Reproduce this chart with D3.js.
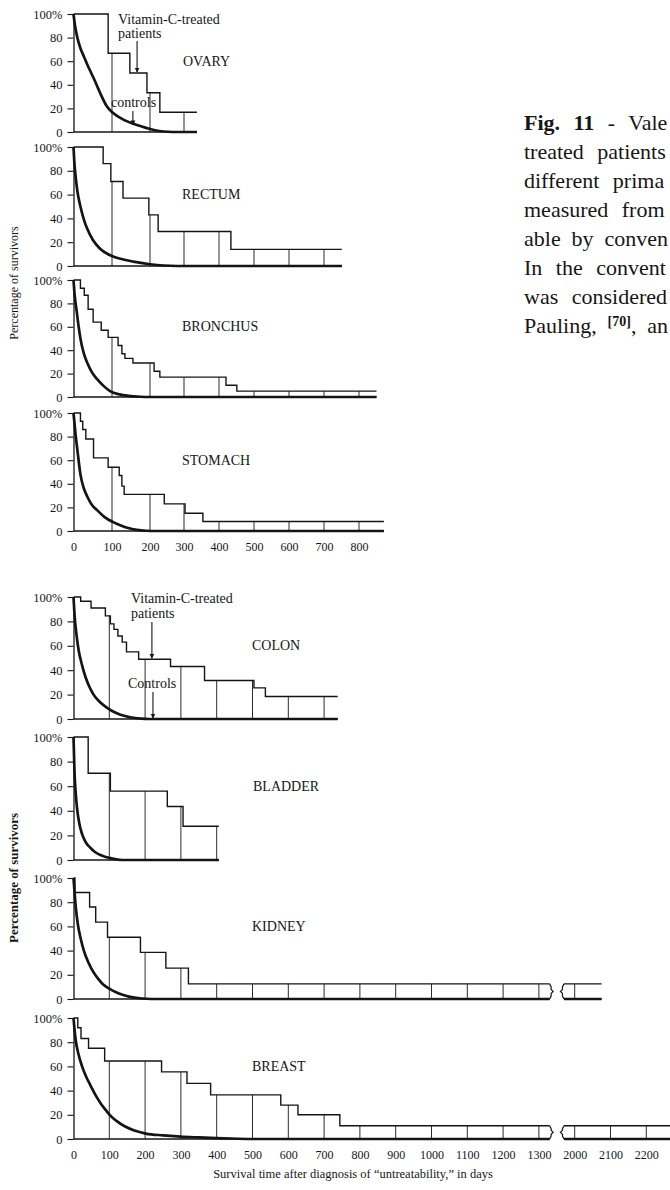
<!DOCTYPE html>
<html>
<head>
<meta charset="utf-8">
<script src="https://cdn.jsdelivr.net/npm/d3@7"></script>
<style>
  body { margin: 0; background: #fff; }
  svg text { font-family: "Liberation Serif", "Times New Roman", serif; fill: #161616; }
</style>
</head>
<body>
<svg id="fig" width="670" height="1190"></svg>
<script>
var Y_TICKS = [0, 20, 40, 60, 80, 100];
var TOP_DAYS = [0, 100, 200, 300, 400, 500, 600, 700, 800];
var BOTTOM_DAYS = [0, 100, 200, 300, 400, 500, 600, 700, 800, 900, 1000, 1100, 1200, 1300, 2000, 2100, 2200];

// treated patients: [day the step starts, % surviving], last pair = end of record
var ovaryTreated = [[0, 100], [90, 66.7], [147, 50], [192, 33.3], [229, 16.7], [337, 16.7]];
var rectumTreated = [[0, 100], [77, 86], [97, 71], [129, 57], [197, 43], [224, 29], [434, 14], [751, 14]];
var bronchusTreated = [[0, 100], [18, 93], [28, 87], [38, 75], [51, 64], [72, 57], [90, 51], [116, 44], [126, 37],
  [134, 33], [155, 29], [212, 22], [229, 17], [420, 10], [451, 5], [850, 5]];
var stomachTreated = [[0, 100], [18, 93], [24, 86], [32, 78], [52, 62], [90, 54], [119, 47], [126, 38], [132, 31],
  [242, 23], [303, 15], [354, 8], [871, 8]];
var colonTreated = [[0, 100], [20, 96.5], [49, 91], [89, 84.5], [103, 78], [113, 73.5], [124, 68], [136, 63], [148, 55],
  [182, 49], [271, 43], [366, 31.5], [504, 25.5], [536, 18.5], [738, 18.5]];
var bladderTreated = [[0, 100], [41, 70.5], [103, 56], [262, 43.5], [306, 27.5], [406, 27.5]];
var kidneyTreated = [[0, 100], [4, 88], [45, 76], [62, 63.5], [95, 51], [187, 38.5], [258, 25.5], [321, 12.5], [2075, 12.5]];
var breastTreated = [[0, 100], [12, 92], [21, 83], [42, 75], [87, 64.5], [246, 55.5], [317, 46], [383, 36.5], [579, 28],
  [627, 20], [744, 11], [2400, 11]];

// controls: [day, % surviving]
var ovaryControls = [[0, 100], [4, 90], [10, 80], [18, 71], [27, 64], [36, 57], [46, 50], [56, 43], [64, 37], [72, 31],
  [86, 22], [103, 16], [130, 10.5], [160, 6.5], [190, 3.5], [215, 1.5], [240, 0.4], [265, 0], [337, 0]];
var rectumControls = [[0, 100], [2, 88], [5, 77], [10, 63], [18, 50], [27, 39], [36, 31], [50, 22], [69, 14.5], [103, 8],
  [130, 5.5], [160, 3.5], [200, 1.5], [240, 0.4], [280, 0], [751, 0]];
var bronchusControls = [[0, 100], [3, 87], [8, 74], [13, 61], [18, 50], [27, 37], [36, 29], [48, 21], [62, 15], [78, 9.5],
  [95, 5], [120, 2.2], [143, 1], [175, 0.2], [200, 0], [850, 0]];
var stomachControls = [[0, 100], [3, 90], [5, 83], [10, 69], [18, 48], [27, 36], [36, 29], [48, 22], [62, 17.5], [80, 12],
  [103, 7.5], [125, 4.5], [143, 2.5], [165, 1], [190, 0.2], [215, 0], [871, 0]];
var colonControls = [[0, 100], [3, 85], [8, 70], [14, 57], [24, 44], [34, 34], [45, 26], [56, 20], [75, 13.5], [95, 9],
  [115, 5.5], [131, 3.5], [150, 2], [168, 1], [190, 0.3], [210, 0], [738, 0]];
var bladderControls = [[0, 100], [1, 90], [3, 70], [6, 55], [10, 42], [16, 30], [24, 21], [35, 14], [47, 10], [60, 6.5],
  [75, 4], [90, 2.5], [103, 1.5], [120, 0.5], [135, 0], [406, 0]];
var kidneyControls = [[0, 100], [2, 92], [6, 77], [12, 62], [20, 50], [30, 39], [42, 30], [54, 23], [68, 17], [83, 12],
  [100, 8.5], [119, 5.5], [137, 3.5], [155, 2], [180, 0.8], [205, 0.2], [230, 0], [2075, 0]];
var breastControls = [[0, 100], [3, 90], [6, 82], [14, 70], [24, 60], [36, 51], [48, 44], [62, 36], [77, 29], [90, 24],
  [101, 20], [120, 15], [143, 10.5], [170, 7], [202, 4.5], [250, 3], [298, 2], [350, 1.3], [400, 0.7], [460, 0.2],
  [520, 0], [2400, 0]];

var CAPTION = ["Fig. 11", " - Vale", "treated patients", "different prima", "measured from",
  "able by conven", "In the convent", "was considered", "Pauling, ", "[70]", ", an"];

var ink = "#141414";
var svg = d3.select("#fig");
svg.append("rect").attr("width", 670).attr("height", 1190).attr("fill", "#fff");

// top group: scan is a little stretched over the first 300 days
var topX = d3.scaleLinear().domain([0, 100, 200, 300, 800]).range([73.5, 112, 150, 184, 359]);
// bottom group: axis is broken between 1300 and 2000 days
var u = 0.358;
var botX = d3.scaleLinear().domain([0, 1350, 1950, 2400])
  .range([73.5, 73.5 + 1350 * u, 73.5 + 1350 * u, 73.5 + 1800 * u]);
var breakL = 1330, breakR = 1970;

var defs = svg.append("defs");
defs.append("marker").attr("id", "arrow").attr("viewBox", "0 0 10 10")
  .attr("refX", 9).attr("refY", 5).attr("markerWidth", 5).attr("markerHeight", 6)
  .attr("markerUnits", "userSpaceOnUse").attr("orient", "auto")
  .append("path").attr("d", "M0,0L10,5L0,10z").attr("fill", ink);
var gap = defs.append("clipPath").attr("id", "gap");
gap.append("rect").attr("x", 0).attr("y", 0).attr("width", botX(breakL)).attr("height", 1190);
gap.append("rect").attr("x", botX(breakR)).attr("y", 0).attr("width", 700).attr("height", 1190);

function stepValue(steps, day) {
  var v = steps[0][1];
  steps.forEach(function(s) { if (s[0] <= day) v = s[1]; });
  return v;
}

var panels = [
  {label: "OVARY", treated: ovaryTreated, controls: ovaryControls, x: topX, days: TOP_DAYS, y0: 132, y100: 14, lx: 183},
  {label: "RECTUM", treated: rectumTreated, controls: rectumControls, x: topX, days: TOP_DAYS, y0: 266, y100: 147, lx: 182},
  {label: "BRONCHUS", treated: bronchusTreated, controls: bronchusControls, x: topX, days: TOP_DAYS, y0: 397, y100: 280, lx: 182},
  {label: "STOMACH", treated: stomachTreated, controls: stomachControls, x: topX, days: TOP_DAYS, y0: 531, y100: 413, lx: 182},
  {label: "COLON", treated: colonTreated, controls: colonControls, x: botX, days: BOTTOM_DAYS, y0: 719, y100: 597, lx: 252},
  {label: "BLADDER", treated: bladderTreated, controls: bladderControls, x: botX, days: BOTTOM_DAYS, y0: 860, y100: 737, lx: 253},
  {label: "KIDNEY", treated: kidneyTreated, controls: kidneyControls, x: botX, days: BOTTOM_DAYS, y0: 999, y100: 878, lx: 252, broken: true},
  {label: "BREAST", treated: breastTreated, controls: breastControls, x: botX, days: BOTTOM_DAYS, y0: 1139, y100: 1018, lx: 252, broken: true}
];

panels.forEach(function(p) {
  var end = p.treated[p.treated.length - 1][0];
  var y = d3.scaleLinear().domain([0, 100]).range([p.y0, p.y100]);
  p.y = y;
  var g = svg.append("g");
  var marks = g.append("g");
  if (p.broken) marks.attr("clip-path", "url(#gap)");

  // verticals at each hundred days, up to the treated curve
  marks.selectAll("line.grid")
    .data(p.days.filter(function(d) { return d > 0 && d < end; }))
    .enter().append("line")
    .attr("x1", function(d) { return p.x(d); })
    .attr("x2", function(d) { return p.x(d); })
    .attr("y1", y(0))
    .attr("y2", function(d) { return y(stepValue(p.treated, d)); })
    .attr("stroke", ink).attr("stroke-width", 0.9);

  marks.append("line")
    .attr("x1", p.x(0)).attr("x2", p.x(end))
    .attr("y1", y(0)).attr("y2", y(0))
    .attr("stroke", ink).attr("stroke-width", 1.3);

  marks.append("path").datum(p.treated)
    .attr("d", d3.line().x(function(d) { return p.x(d[0]); }).y(function(d) { return y(d[1]); }).curve(d3.curveStepAfter))
    .attr("fill", "none").attr("stroke", ink).attr("stroke-width", 1.4);

  marks.append("path").datum(p.controls)
    .attr("d", d3.line().x(function(d) { return p.x(d[0]); }).y(function(d) { return y(d[1]); }).curve(d3.curveMonotoneX))
    .attr("fill", "none").attr("stroke", ink).attr("stroke-width", 2.7);

  if (p.broken) {
    var last = stepValue(p.treated, breakL);
    var yt = y(last), yb = y(0), ym = (yt + yb) / 2;
    var xl = botX(breakL), xr = botX(breakR);
    g.append("path")
      .attr("d", "M" + xl + "," + yt + "L" + (xl + 1.5) + "," + (yt + 3) + "L" + (xl + 1.5) + "," + (ym - 2) +
        "L" + (xl + 3.5) + "," + ym + "L" + (xl + 1.5) + "," + (ym + 2) + "L" + (xl + 1.5) + "," + (yb - 3) + "L" + xl + "," + yb)
      .attr("fill", "none").attr("stroke", ink).attr("stroke-width", 1.2);
    g.append("path")
      .attr("d", "M" + xr + "," + yt + "L" + (xr - 1.5) + "," + (yt + 3) + "L" + (xr - 1.5) + "," + (ym - 2) +
        "L" + (xr - 3.5) + "," + ym + "L" + (xr - 1.5) + "," + (ym + 2) + "L" + (xr - 1.5) + "," + (yb - 3) + "L" + xr + "," + yb)
      .attr("fill", "none").attr("stroke", ink).attr("stroke-width", 1.2);
  }

  var ax = g.append("g")
    .attr("transform", "translate(" + p.x(0) + ",0)")
    .call(d3.axisLeft(y).tickValues(Y_TICKS).tickSize(6).tickPadding(5).tickSizeOuter(0)
      .tickFormat(function(d) { return d === 100 ? "100%" : d; }))
    .attr("font-family", null).attr("font-size", null);
  ax.select(".domain").attr("stroke", ink).attr("stroke-width", 1.3);
  ax.selectAll(".tick line").attr("stroke", ink).attr("stroke-width", 1.1);
  ax.selectAll(".tick text").style("font-size", "12.5px");

  g.append("text")
    .attr("x", p.lx).attr("y", y(60))
    .attr("dominant-baseline", "central")
    .style("font-size", "14px")
    .text(p.label);
});

// x axes
function dayAxis(scale, days, yPos) {
  var a = svg.append("g")
    .attr("transform", "translate(0," + yPos + ")")
    .call(d3.axisBottom(scale).tickValues(days).tickSize(0).tickPadding(11).tickFormat(d3.format("d")))
    .attr("font-family", null).attr("font-size", null);
  a.select(".domain").remove();
  a.selectAll(".tick text").style("font-size", "12px");
}
dayAxis(topX, TOP_DAYS, panels[3].y0);
dayAxis(botX, BOTTOM_DAYS, panels[7].y0);

svg.append("text")
  .attr("x", 353).attr("y", 1178)
  .attr("text-anchor", "middle")
  .style("font-size", "12.5px")
  .text("Survival time after diagnosis of \u201cuntreatability,\u201d in days");

svg.append("text")
  .attr("transform", "translate(18,283) rotate(-90)")
  .attr("text-anchor", "middle")
  .style("font-size", "12px")
  .text("Percentage of survivors");
svg.append("text")
  .attr("transform", "translate(18,878) rotate(-90)")
  .attr("text-anchor", "middle")
  .attr("textLength", 130).attr("lengthAdjust", "spacingAndGlyphs")
  .style("font-size", "12px").style("font-weight", "bold")
  .text("Percentage of survivors");

// annotations with arrows
function note(lines, x, yFirst, lh) {
  lines.forEach(function(t, i) {
    svg.append("text").attr("x", x).attr("y", yFirst + i * lh).style("font-size", "14px").text(t);
  });
}
function arrow(x, y1, y2) {
  svg.append("line").attr("x1", x).attr("x2", x).attr("y1", y1).attr("y2", y2)
    .attr("stroke", ink).attr("stroke-width", 1.1).attr("marker-end", "url(#arrow)");
}
var ov = panels[0], co = panels[4];
note(["Vitamin-C-treated", "patients"], 118, 24, 14);
arrow(topX(166), 41, ov.y(stepValue(ovaryTreated, 166)) - 1);
note(["controls"], 111, 107, 14);
arrow(topX(155), 111, ov.y(6));
note(["Vitamin-C-treated", "patients"], 131, 603, 15);
arrow(botX(219), 622, co.y(stepValue(colonTreated, 219)) - 1);
note(["Controls"], 128, 688, 14);
arrow(botX(222), 692, co.y(0) - 1);

// caption column: justified by widening the word gaps up to the page edge
var cx = 524, cy = 130, clh = 29, cRight = 668, cSize = "22px";
function justify(t) {
  var words = (t.text().match(/ /g) || []).length;
  var w = t.node().getComputedTextLength();
  if (words > 0 && w < cRight - cx) t.attr("word-spacing", Math.min(8, (cRight - cx - w) / words));
}
var c0 = svg.append("text").attr("x", cx).attr("y", cy).style("font-size", cSize);
c0.append("tspan").style("font-weight", "bold").text(CAPTION[0]);
c0.append("tspan").text(CAPTION[1]);
justify(c0);
CAPTION.slice(2, 8).forEach(function(t, i) {
  var line = svg.append("text").attr("x", cx).attr("y", cy + (i + 1) * clh).style("font-size", cSize).text(t);
  justify(line);
});
var c7 = svg.append("text").attr("x", cx).attr("y", cy + 7 * clh).style("font-size", cSize);
c7.append("tspan").text(CAPTION[8]);
c7.append("tspan").attr("dy", -7).style("font-size", "14px").style("font-weight", "bold").text(CAPTION[9]);
c7.append("tspan").attr("dy", 7).text(CAPTION[10]);
justify(c7);
</script>
</body>
</html>
